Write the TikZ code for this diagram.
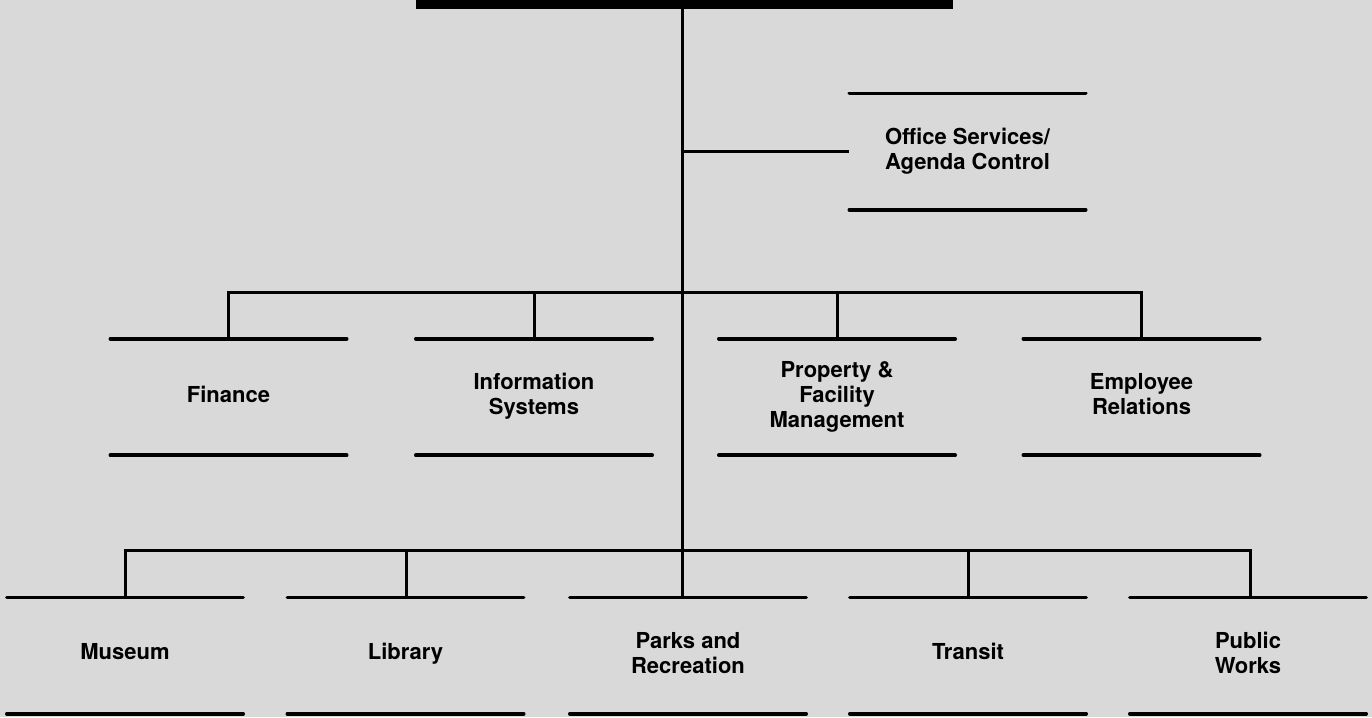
\documentclass[tikz,border=0pt]{standalone}
\usepackage{fontspec}
\setmainfont{TeX Gyre Heros}
\usetikzlibrary{calc}
\newcommand\unittext[2]{\raisebox{#1}{\begin{tabular}{@{}c@{}}#2\end{tabular}}}
\begin{document}
\begin{tikzpicture}[x=1pt,y=-1pt,
  unit/.style={minimum width=236pt, minimum height=116pt, inner sep=0pt, align=center,
    font=\bfseries\fontsize{22}{25}\selectfont},
  boxline/.style={line width=3.6pt, line cap=round},
  conn/.style={line width=3pt}]
\fill[gray!30] (0,0) rectangle (1372,717);
\useasboundingbox (0,0) rectangle (1372,717);
% head bar
\node[fill=black, minimum width=537pt, minimum height=9pt, inner sep=0pt, anchor=north] (head) at (684.5,0) {};
% units
\node[unit] (office) at (967.5,151.5) {\unittext{1.5pt}{Office Services/\\Agenda Control}};
\node[unit] (fin) at (228.5,397) {\unittext{2pt}{Finance}};
\node[unit] (info) at (534,397) {\unittext{2pt}{Information\\Systems}};
\node[unit] (prop) at (837,397) {\unittext{3pt}{Property \&\\Facility\\Management}};
\node[unit] (emp) at (1141.5,397) {\unittext{2pt}{Employee\\Relations}};
\node[unit] (mus) at (125,655.5) {\unittext{10pt}{Museum}};
\node[unit] (lib) at (405.5,655.5) {\unittext{10pt}{Library}};
\node[unit] (park) at (688,655.5) {\unittext{10pt}{Parks and\\Recreation}};
\node[unit] (tran) at (968,655.5) {\unittext{10pt}{Transit}};
\node[unit] (pw) at (1248,655.5) {\unittext{10pt}{Public\\Works}};
\foreach \n in {office,fin,info,prop,emp,mus,lib,park,tran,pw}
  \draw[boxline] (\n.north west) -- (\n.north east) (\n.south west) -- (\n.south east);
% trunk
\coordinate (bus1) at (682,292);
\coordinate (bus2) at (682,550);
\draw[conn] (head.south -| bus1) -- (park.north -| bus1);
\draw[conn] (bus1 |- office.west) -- (office.west);
% level 1 bus
\draw[conn] (fin.north) -- (fin.north |- bus1) -- (emp.north |- bus1) -- (emp.north);
\draw[conn] (info.north) -- (info.north |- bus1);
\draw[conn] (prop.north) -- (prop.north |- bus1);
% level 2 bus
\draw[conn] (mus.north) -- (mus.north |- bus2) -- ([xshift=2pt]pw.north |- bus2) -- ([xshift=2pt]pw.north);
\draw[conn] ([xshift=1pt]lib.north) -- ([xshift=1pt]lib.north |- bus2);
\draw[conn] (tran.north) -- (tran.north |- bus2);
\end{tikzpicture}
\end{document}
